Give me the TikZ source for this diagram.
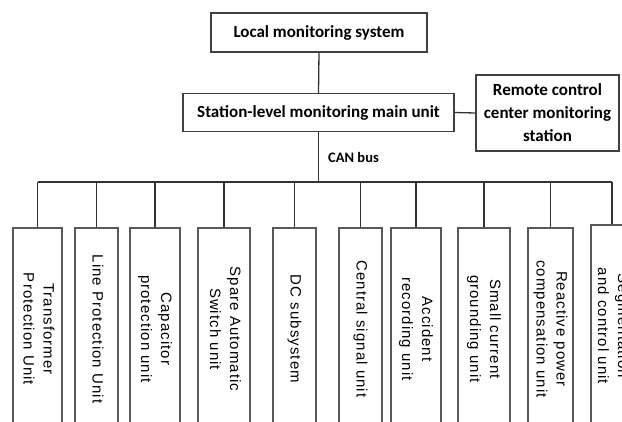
\documentclass[tikz,border=0pt]{standalone}
\usepackage{fontspec}
\setmainfont{Carlito}
\newfontfamily\unitfont{Liberation Sans}[LetterSpace=7]
\usepackage{graphicx}

% vertical label inside a unit box (reads top to bottom)
\newcommand\vlabel[1]{\rotatebox{-90}{\unitfont\fontsize{15}{20}\selectfont\begin{tabular}{@{}c@{}}#1\end{tabular}}}

\tikzset{
  wire/.style={draw=black!80, line width=1.3pt},
  headbox/.style={draw=black!75, line width=1.3pt, align=center, inner sep=0pt,
    font=\bfseries\fontsize{17}{23}\selectfont},
  unitbox/.style={draw=black!65, line width=1.2pt, inner sep=0pt, minimum height=202pt},
}

\begin{document}
\begin{tikzpicture}[x=1pt, y=-1pt]
  \useasboundingbox (0,0) rectangle (622,421);
  \clip (0,0) rectangle (622,421);

  % upper levels
  \node[headbox, minimum width=216pt, minimum height=39pt] (local) at (319,32.5) {Local monitoring system};
  \node[headbox, minimum width=271pt, minimum height=38pt] (station) at (318.5,112.5) {Station-level monitoring main unit};
  \node[headbox, minimum width=143pt, minimum height=76pt] (remote) at (547.5,113) {Remote control\\center monitoring\\station};

  \draw[wire] (local.south) -- (station.north);
  \draw[wire] (station.east) -- (remote.west);

  % CAN bus
  \coordinate (bus) at (318.5,182);
  \draw[wire] (station.south) -- (bus);
  \node[anchor=west, inner sep=0pt, font=\bfseries\fontsize{14.5}{16}\selectfont] (can) at (328,157) {CAN bus};

  % bay-level units
  \node[unitbox, minimum width=49pt] (u1) at (37.5,329) {\vlabel{Transformer\\Protection Unit}};
  \node[unitbox, minimum width=43pt] (u2) at (96.5,329) {\vlabel{Line Protection Unit}};
  \node[unitbox, minimum width=50pt] (u3) at (155,329) {\vlabel{Capacitor\\protection unit}};
  \node[unitbox, minimum width=52pt] (u4) at (224,329) {\vlabel{Spare Automatic\\Switch unit}};
  \node[unitbox, minimum width=43pt] (u5) at (294.5,329) {\vlabel{DC subsystem}};
  \node[unitbox, minimum width=43pt] (u6) at (360.5,329) {\vlabel{Central signal unit}};
  \node[unitbox, minimum width=50pt] (u7) at (416,329) {\vlabel{Accident\\recording unit}};
  \node[unitbox, minimum width=52pt] (u8) at (484,329) {\vlabel{Small current\\grounding unit}};
  \node[unitbox, minimum width=45pt] (u9) at (550.5,329) {\vlabel{Reactive power\\compensation unit}};
  \node[unitbox, minimum width=42pt] (u10) at (612,326) {\vlabel{Segmentation\\and control unit}};

  \draw[wire] (u1.north |- bus) -- (u10.north |- bus);
  \foreach \u in {u1,u2,u3,u4,u5,u6,u7,u8,u9,u10}
    \draw[wire] (\u.north |- bus) -- (\u.north);
\end{tikzpicture}
\end{document}
